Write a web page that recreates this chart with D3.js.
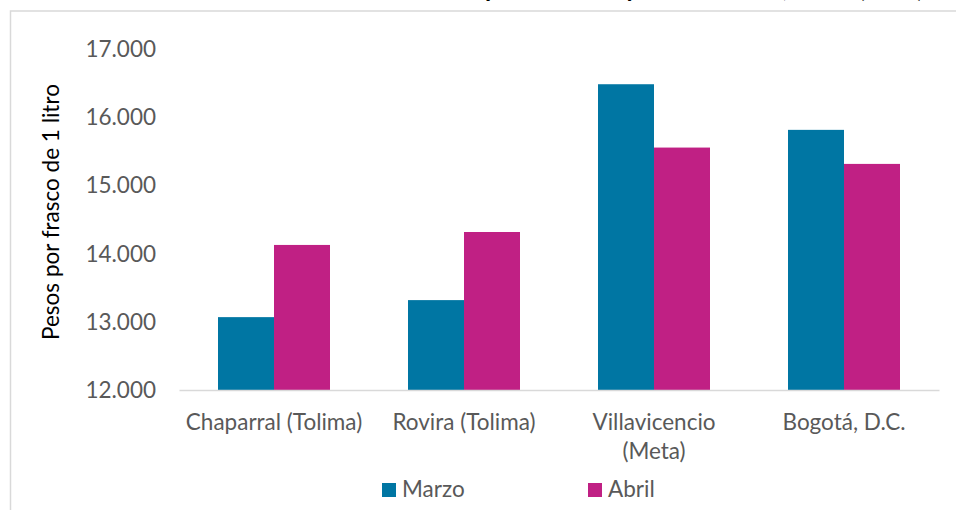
<!DOCTYPE html>
<html lang="es">

<head>
    <meta charset="utf-8">
    <title>Precio del aceite</title>
    <script src="https://d3js.org/d3.v7.min.js"></script>
    <style>
        body { margin: 0; background: #fff; }
        text { font-family: Lato, "Open Sans", sans-serif; }
    </style>
</head>

<body>
<div id="chart"></div>

<script>
    // Data
    var categories = ["Chaparral (Tolima)", "Rovira (Tolima)", "Villavicencio (Meta)", "Bogotá, D.C."]
    var series = ["Marzo", "Abril"]
    var marzo = [13070, 13320, 16490, 15820]
    var abril = [14130, 14320, 15560, 15320]
    var yTicks = [12000, 13000, 14000, 15000, 16000, 17000]
    var colors = ["#0076a3", "#c02084"]
    var titleText = "Precio del aceite a nivel departamental y en Colombia, 2021 (COP)"
    var yTitle = "Pesos por frasco de 1 litro"

    var W = 956, H = 510
    var fontSize = 22.5
    var grey = "#595959"

    var svg = d3.select("#chart").append("svg")
        .attr("width", W)
        .attr("height", H)

    // chart border (runs off the right and bottom edges)
    svg.append("rect")
        .attr("x", 10.5).attr("y", 11)
        .attr("width", W + 20).attr("height", H + 20)
        .attr("fill", "none")
        .attr("stroke", "#d9d9d9")
        .attr("stroke-width", 1.5)

    // title, mostly cut off at the top
    var title = svg.append("text")
        .attr("y", -3)
        .attr("font-size", 25)
        .attr("font-weight", "bold")
        .attr("fill", "#000")
        .text(titleText)
    var pIdx = titleText.indexOf("partamental")
    title.attr("x", 485 - title.node().getSubStringLength(0, pIdx))

    // scales
    var x = d3.scaleBand()
        .domain(categories)
        .range([179, 939])
        .paddingInner(78 / 190)
        .paddingOuter(39 / 190)

    var xs = d3.scaleBand()
        .domain(series)
        .range([0, x.bandwidth()])

    var y = d3.scaleLinear()
        .domain([12000, 17000])
        .range([390, 49.5])

    var es = d3.formatLocale({ decimal: ",", thousands: ".", grouping: [3], currency: ["$", ""] })
    var fmt = es.format(",d")

    // bars
    var rows = categories.map(function (c, i) {
        return { cat: c, values: [marzo[i], abril[i]] }
    })

    var groups = svg.selectAll("g.group")
        .data(rows)
        .enter()
        .append("g")
        .attr("class", "group")
        .attr("transform", function (d) { return "translate(" + x(d.cat) + ",0)" })

    groups.selectAll("rect")
        .data(function (d) { return d.values.map(function (v, j) { return { s: series[j], v: v, j: j } }) })
        .enter()
        .append("rect")
        .attr("x", function (d) { return xs(d.s) })
        .attr("y", function (d) { return y(d.v) })
        .attr("width", xs.bandwidth())
        .attr("height", function (d) { return y(12000) - y(d.v) })
        .attr("fill", function (d) { return colors[d.j] })

    // y axis (labels only)
    var yAxis = svg.append("g")
        .attr("transform", "translate(179,0)")
        .call(d3.axisLeft(y).tickValues(yTicks).tickFormat(fmt).tickSize(0).tickPadding(23))
    yAxis.select(".domain").remove()
    yAxis.selectAll("text")
        .attr("font-size", fontSize)
        .attr("font-family", "Lato, sans-serif")
        .attr("fill", grey)

    // x axis
    var xAxis = svg.append("g")
        .attr("transform", "translate(0,390)")
        .call(d3.axisBottom(x).tickSize(0))
    xAxis.select(".domain")
        .attr("stroke", "#d9d9d9")
        .attr("stroke-width", 1.5)
    xAxis.selectAll("text")
        .attr("font-size", fontSize)
        .attr("font-family", "Lato, sans-serif")
        .attr("fill", grey)
        .attr("y", 40)
        .attr("dy", 0)
        .call(wrap, x.step() - 8)

    function wrap(sel, width) {
        sel.each(function () {
            var t = d3.select(this)
            var words = t.text().split(/\s+/)
            var lines = [], line = []
            t.text(null)
            var ts = t.append("tspan").attr("x", 0)
            words.forEach(function (w) {
                line.push(w)
                ts.text(line.join(" "))
                if (ts.node().getComputedTextLength() > width && line.length > 1) {
                    line.pop()
                    lines.push(line.join(" "))
                    line = [w]
                    ts.text(w)
                }
            })
            lines.push(line.join(" "))
            t.text(null)
            lines.forEach(function (l, k) {
                t.append("tspan").attr("x", 0).attr("dy", k === 0 ? 0 : 28.5).text(l)
            })
        })
    }

    // y axis title
    svg.append("text")
        .attr("transform", "translate(51,212) rotate(-90)")
        .attr("text-anchor", "middle")
        .attr("dy", "0.35em")
        .attr("font-size", fontSize)
        .attr("fill", "#000")
        .text(yTitle)

    // legend
    var legend = svg.selectAll("g.legend")
        .data(series)
        .enter()
        .append("g")
        .attr("class", "legend")
        .attr("transform", function (d, i) { return "translate(" + (382 + i * 206) + ",483)" })

    legend.append("rect")
        .attr("width", 14)
        .attr("height", 14)
        .attr("fill", function (d, i) { return colors[i] })

    legend.append("text")
        .attr("x", 20)
        .attr("y", 14)
        .attr("font-size", fontSize)
        .attr("fill", grey)
        .text(function (d) { return d })
</script>
</body>

</html>
